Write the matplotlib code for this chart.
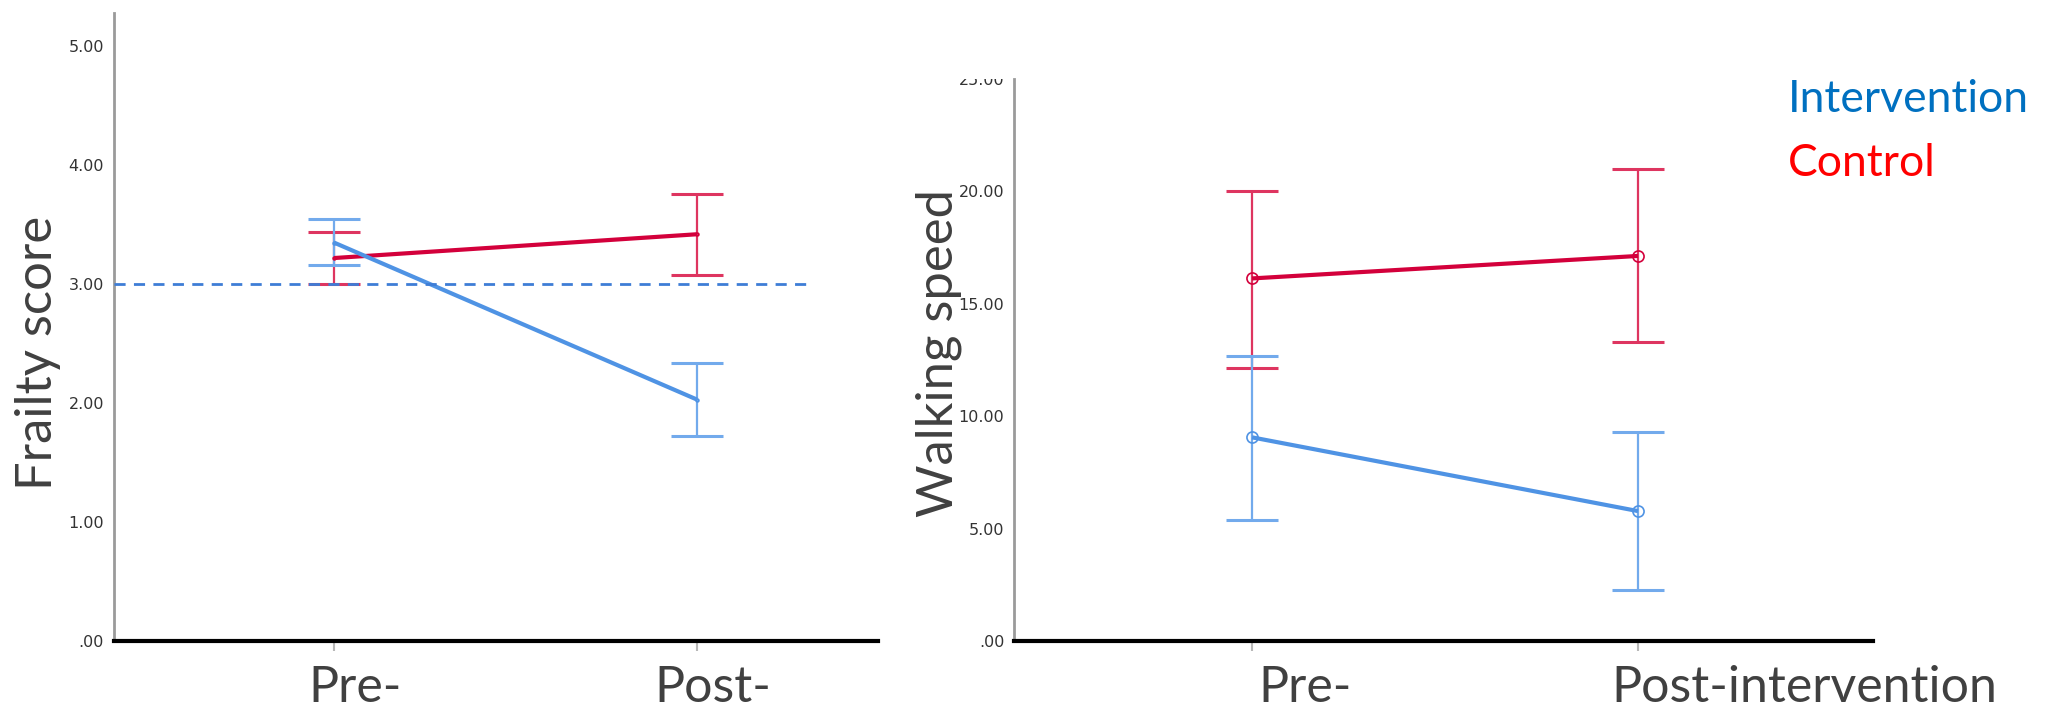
import matplotlib
matplotlib.use('Agg')
import matplotlib.pyplot as plt
from matplotlib.patches import Rectangle

# ---------------- data ----------------
time_points = [0, 1]
left_xlabels = ["Pre-", "Post-"]
right_xlabels = ["Pre-", "Post-intervention"]
group_names = ["Intervention", "Control"]
y_titles = ["Frailty score", "Walking speed"]

frailty_int_mean = [3.35, 2.03]
frailty_int_low = [3.16, 1.72]
frailty_int_high = [3.55, 2.34]
frailty_ctl_mean = [3.22, 3.42]
frailty_ctl_low = [3.00, 3.08]
frailty_ctl_high = [3.44, 3.76]
frailty_cutoff = 3.0

walk_int_mean = [9.06, 5.78]
walk_int_low = [5.40, 2.27]
walk_int_high = [12.69, 9.31]
walk_ctl_mean = [16.13, 17.13]
walk_ctl_low = [12.15, 13.28]
walk_ctl_high = [20.03, 21.00]

frailty_ticks = [0, 1, 2, 3, 4, 5]
frailty_ticklabels = [".00", "1.00", "2.00", "3.00", "4.00", "5.00"]
walk_ticks = [0, 5, 10, 15, 20, 25]
walk_ticklabels = [".00", "5.00", "10.00", "15.00", "20.00", "25.00"]

# ---------------- style ----------------
BLUE_LINE = "#4F93E4"
BLUE_ERR = "#72AAEC"
RED_LINE = "#D3003B"
RED_ERR = "#DE3560"
TXT = "#404040"
BIG_FONT = "Lato"

fig = plt.figure(figsize=(20.71, 7.12), dpi=100)
fig.patch.set_facecolor("white")

ax1 = fig.add_axes([0.0549, 0.0997, 0.3691, 0.882])
ax2 = fig.add_axes([0.4896, 0.0997, 0.4148, 0.7893])


def draw_group(ax, mean, low, high, lc, ec, marker, ms):
    yerr = [[m - l for m, l in zip(mean, low)], [h - m for h, m in zip(high, mean)]]
    ax.errorbar(time_points, mean, yerr=yerr, fmt="none", ecolor=ec,
                elinewidth=1.6, capsize=19, capthick=2.2, zorder=2)
    ax.plot(time_points, mean, color=lc, lw=3.0, solid_capstyle="butt", zorder=3,
            marker=marker, markersize=ms, markerfacecolor="none",
            markeredgecolor=lc, markeredgewidth=1.2)


def style_axes(ax, ticks, ticklabels, ylim, xlim):
    ax.set_xlim(*xlim)
    ax.set_ylim(*ylim)
    for s in ["top", "right"]:
        ax.spines[s].set_visible(False)
    ax.spines["left"].set_color("#9a9a9a")
    ax.spines["left"].set_linewidth(2.0)
    ax.spines["bottom"].set_color("black")
    ax.spines["bottom"].set_linewidth(3.0)
    ax.set_yticks(ticks)
    ax.set_yticklabels(ticklabels, fontsize=11.5, color="#333333",
                       fontfamily="DejaVu Sans")
    ax.tick_params(axis="y", length=0, pad=7)
    ax.set_xticks(time_points)
    ax.set_xticklabels(["", ""])
    ax.tick_params(axis="x", length=7, width=1.5, color="#b8b8b8", direction="out")


# left panel: frailty
draw_group(ax1, frailty_ctl_mean, frailty_ctl_low, frailty_ctl_high,
           RED_LINE, RED_ERR, "o", 2)
draw_group(ax1, frailty_int_mean, frailty_int_low, frailty_int_high,
           BLUE_LINE, BLUE_ERR, "o", 2)
style_axes(ax1, frailty_ticks, frailty_ticklabels, (0, 5.28), (-0.607, 1.499))
ax1.hlines(frailty_cutoff, -0.607, 1.317, colors="#3E7DD6", linestyles=(0, (4, 3)),
           lw=2.0, zorder=4)

# right panel: walking speed
draw_group(ax2, walk_ctl_mean, walk_ctl_low, walk_ctl_high,
           RED_LINE, RED_ERR, "o", 8)
draw_group(ax2, walk_int_mean, walk_int_low, walk_int_high,
           BLUE_LINE, BLUE_ERR, "o", 8)
style_axes(ax2, walk_ticks, walk_ticklabels, (0, 25), (-0.617, 1.609))

# y titles
for x, lab in zip([0.0185, 0.4535], y_titles):
    fig.text(x, 0.504, lab, rotation=90, ha="center", va="center", fontsize=36.5,
             color=TXT, fontfamily=BIG_FONT)

# clip the top tick label like in the original
fig.patches.append(Rectangle((0.455, 0.889), 0.032, 0.06, transform=fig.transFigure,
                             facecolor="white", edgecolor="none", zorder=10))

# category labels
for x, lab in zip([0.1714, 0.344], left_xlabels):
    fig.text(x, 0.002, lab, ha="center", va="bottom", fontsize=36,
             color=TXT, fontfamily=BIG_FONT)
for x, lab in zip([0.630, 0.871], right_xlabels):
    fig.text(x, 0.002, lab, ha="center", va="bottom", fontsize=36,
             color=TXT, fontfamily=BIG_FONT)

# group legend text
fig.text(0.8635, 0.843, group_names[0], ha="left", va="baseline", fontsize=32,
         color="#0070C0", fontfamily=BIG_FONT)
fig.text(0.8635, 0.753, group_names[1], ha="left", va="baseline", fontsize=32,
         color="#FF0000", fontfamily=BIG_FONT)

fig.savefig("out.png", dpi=100, facecolor="white")
